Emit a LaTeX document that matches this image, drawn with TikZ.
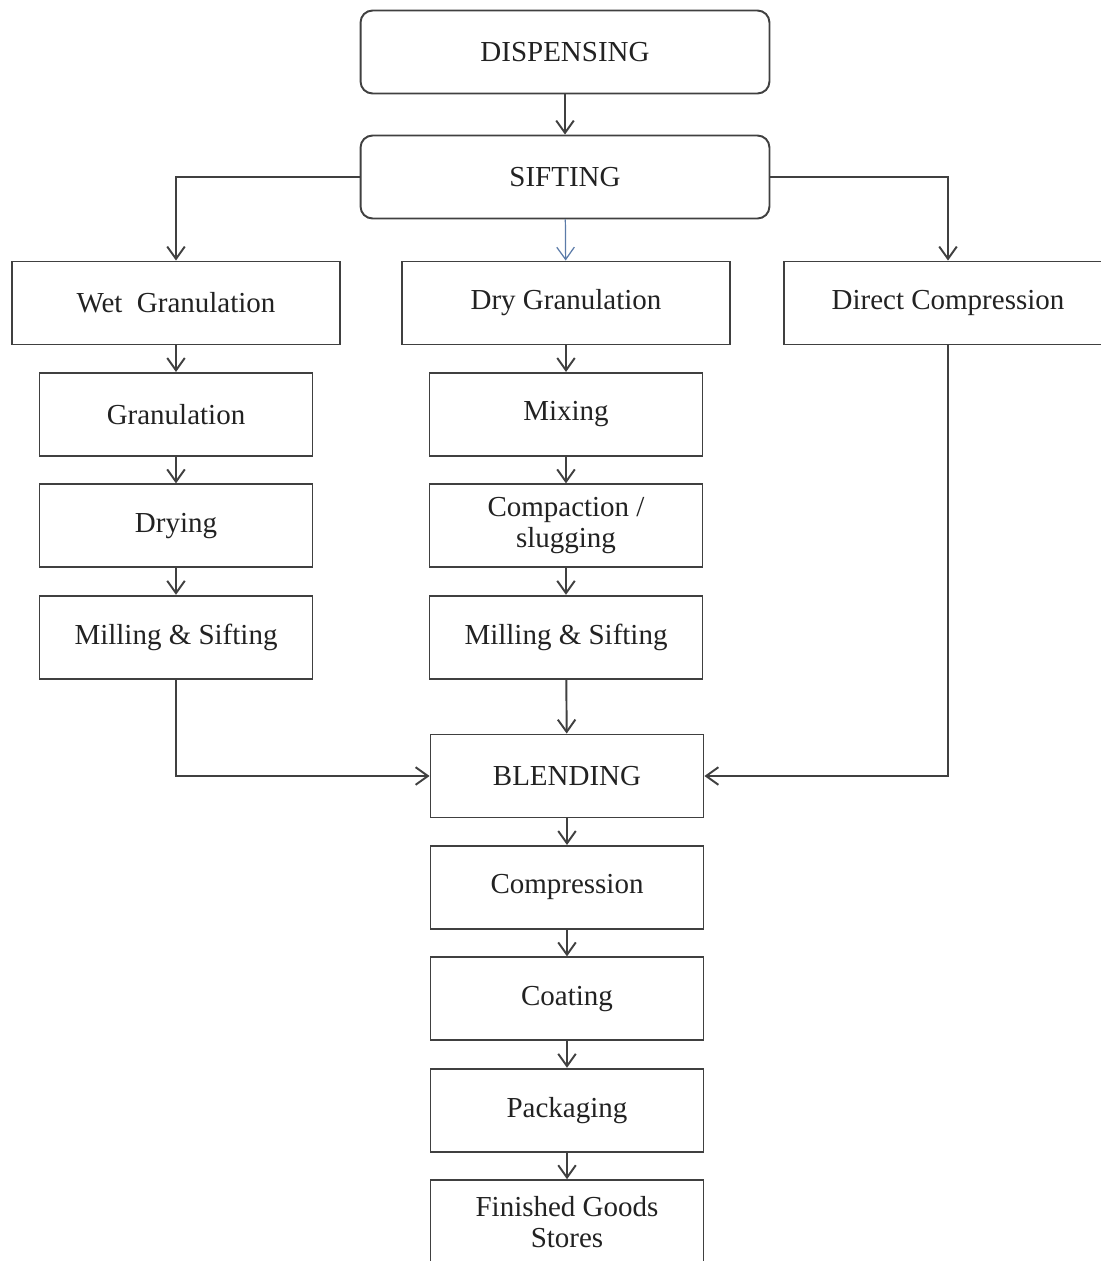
\documentclass[tikz,border=0pt]{standalone}
\usepackage{fontspec}
\setmainfont{Liberation Serif}
\usetikzlibrary{arrows.meta, positioning}
\definecolor{lineGray}{HTML}{404040}
\definecolor{textGray}{HTML}{222222}
\definecolor{arrowBlue}{HTML}{5B7BA8}

\begin{document}
\begin{tikzpicture}[
    x=0.02cm, y=-0.02cm,
    node distance=0.53cm,
    font=\fontsize{16.5}{17.6}\selectfont,
    box/.style={draw=lineGray, line width=1.1pt, text=textGray, align=center,
                minimum width=6.56cm, minimum height=1.66cm, inner sep=2pt},
    smallbox/.style={box, minimum width=5.46cm},
    roundbox/.style={box, rounded corners=0.24cm, minimum width=8.18cm},
    flow/.style={draw=lineGray, line width=1.1pt,
                 -{Straight Barb[length=7pt, width=10pt]}},
  ]
    \useasboundingbox (0,0) rectangle (1101,1261);
    \clip (0,0) rectangle (1101,1261);

    % top of the flow
    \node[roundbox] (disp) at (565,52) {DISPENSING};
    \node[roundbox] (sift) at (565,177) {SIFTING};

    % three routes
    \node[box] (wet) at (176,303) {Wet\ \ Granulation};
    \node[box] (dry) at (566,303) {Dry Granulation};
    \node[box] (direct) at (948,303) {Direct Compression};

    \node[smallbox, below=of wet] (gran) {Granulation};
    \node[smallbox, below=of gran] (drying) {Drying};
    \node[smallbox, below=of drying] (millwet) {Milling \& Sifting};

    \node[smallbox, below=of dry] (mixing) {Mixing};
    \node[smallbox, below=of mixing] (compact) {Compaction /\\slugging};
    \node[smallbox, below=of compact] (milldry) {Milling \& Sifting};

    % common part
    \node[smallbox] (blend) at (567,776) {BLENDING};
    \node[smallbox, below=of blend] (compr) {Compression};
    \node[smallbox, below=of compr] (coat) {Coating};
    \node[smallbox, below=of coat] (pack) {Packaging};
    \node[smallbox, below=of pack] (store) {Finished Goods\\Stores};

    \draw[flow] (disp) -- (sift);
    \draw[flow] (sift.west) -| (wet.north);
    \draw[flow, draw=arrowBlue, line width=0.7pt] (sift) -- (dry);
    \draw[flow] (sift.east) -| (direct.north);
    \foreach \from/\to in {wet/gran, gran/drying, drying/millwet,
                           dry/mixing, mixing/compact, compact/milldry,
                           milldry/blend, blend/compr, compr/coat,
                           coat/pack, pack/store}
      \draw[flow] (\from) -- (\to);
    \draw[flow] (millwet.south) |- (blend.west);
    \draw[flow] (direct.south) |- (blend.east);
\end{tikzpicture}
\end{document}
